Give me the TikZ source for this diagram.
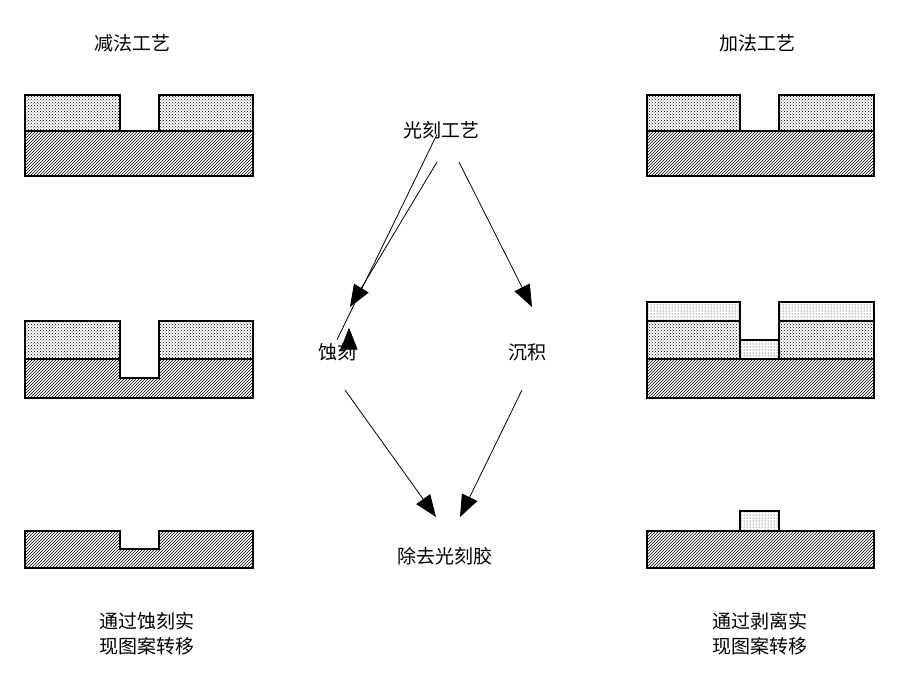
\documentclass[tikz,border=0pt]{standalone}
\usepackage{fontspec}
\setmainfont{Noto Sans CJK SC}
\usetikzlibrary{patterns,arrows.meta}

\begin{document}
\begin{tikzpicture}[x=1pt,y=-1pt,
	lbl/.style = {font=\fontsize{19}{25}\selectfont, align=center},
	sub/.style = {draw, line width=2pt, pattern=north east lines},
	res/.style = {draw, line width=2pt, pattern=crosshatch dots},
	met/.style = {draw, line width=2pt, pattern=dots},
	arr/.style = {-{Triangle[length=22pt,width=17pt]}, line width=0.8pt}]
	\useasboundingbox (0,0) rectangle (899,683);
	% left column
	\draw[sub] (25,131) rectangle (253,176);
	\draw[res] (25,95) rectangle (120,131);
	\draw[res] (159,95) rectangle (253,131);
	\draw[sub] (25,359) -- (120,359) -- (120,378) -- (159,378) -- (159,359) -- (253,359) -- (253,398) -- (25,398) -- cycle;
	\draw[res] (25,321) rectangle (120,359);
	\draw[res] (159,321) rectangle (253,359);
	\draw[sub] (25,531) -- (120,531) -- (120,549) -- (159,549) -- (159,531) -- (253,531) -- (253,568) -- (25,568) -- cycle;
	% right column
	\draw[sub] (647,131) rectangle (874,176);
	\draw[res] (647,95) rectangle (740,131);
	\draw[res] (779,95) rectangle (874,131);
	\draw[sub] (647,359) rectangle (874,398);
	\draw[res] (647,321) rectangle (740,359);
	\draw[res] (779,321) rectangle (874,359);
	\draw[met] (647,302) rectangle (740,321);
	\draw[met] (779,302) rectangle (874,321);
	\draw[met] (740,340) rectangle (779,359);
	\draw[sub] (647,531) rectangle (874,568);
	\draw[met] (740,511) rectangle (779,531);
	% labels
	\node[lbl] (sub) at (132,43) {减法工艺};
	\node[lbl] (add) at (757,43) {加法工艺};
	\node[lbl] (litho) at (441,130) {光刻工艺};
	\node[lbl] (etch) at (337,352) {蚀刻};
	\node[lbl] (depo) at (527,352) {沉积};
	\node[lbl] (strip) at (445,556) {除去光刻胶};
	\node[lbl] (subnote) at (147,634) {通过蚀刻实\\现图案转移};
	\node[lbl] (addnote) at (760,634) {通过剥离实\\现图案转移};
	\draw[arr] (litho.south) ++(-4,-8) -- (etch.north) ++(12,-12);
	\draw[arr] (437,162) -- (350,307);
	\draw[arr] (459,162) -- (532,307);
	\draw[arr] (345,390) -- (436,517);
	\draw[arr] (522,390) -- (460,517);
\end{tikzpicture}
\end{document}
